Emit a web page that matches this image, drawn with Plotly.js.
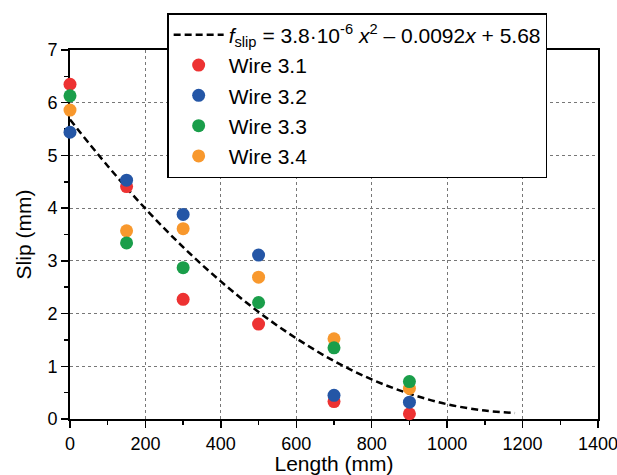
<!DOCTYPE html>
<html>
<head>
<meta charset="utf-8">
<script src="https://cdn.plot.ly/plotly-3.0.1.min.js"></script>
<style>html,body{margin:0;padding:0;background:#fff;}#chart{width:617px;height:475px;}</style>
</head>
<body>
<div id="chart"></div>
<script>
// Measurement lengths (mm)
var lengths = [0, 150, 300, 500, 700, 900];
// Slip values (mm) per wire
var wire31 = [6.35, 4.41, 2.27, 1.80, 0.33, 0.10];
var wire32 = [5.44, 4.53, 3.88, 3.11, 0.45, 0.32];
var wire33 = [6.13, 3.34, 2.87, 2.21, 1.35, 0.71];
var wire34 = [5.86, 3.57, 3.61, 2.69, 1.52, 0.58];
// Fitted curve f_slip = 3.8e-6 x^2 - 0.0092 x + 5.68 (as shown in the legend)
var fitX = [0, 100, 200, 300, 400, 500, 600, 700, 800, 900, 1000, 1100, 1180];
var fitY = [5.68, 4.80, 3.99, 3.26, 2.61, 2.03, 1.53, 1.10, 0.75, 0.48, 0.28, 0.16, 0.115];
var xTicks = [0, 200, 400, 600, 800, 1000, 1200, 1400];
var yTicks = [0, 1, 2, 3, 4, 5, 6, 7];

var FONT = 'Arial, "Liberation Sans", sans-serif';
var mk = function (name, y, color, rank) {
  return {
    x: lengths, y: y, name: name, type: 'scatter', mode: 'markers',
    marker: {size: 13, color: color, line: {width: 0}},
    cliponaxis: false, legendrank: rank
  };
};

var traces = [
  {
    x: fitX, y: fitY, type: 'scatter', mode: 'lines', legendrank: 1,
    name: '<i>f</i><sub>slip</sub> = 3.8·10<sup>-6</sup> <i>x</i><sup>2</sup> – 0.0092<i>x</i> + 5.68',
    line: {color: '#000', width: 2.5, dash: '7px,4px', shape: 'spline'}
  },
  mk('Wire 3.1', wire31, 'rgb(237,50,50)', 2),
  mk('Wire 3.2', wire32, 'rgb(36,86,166)', 3),
  mk('Wire 3.4', wire34, 'rgb(248,152,45)', 5),
  mk('Wire 3.3', wire33, 'rgb(26,158,74)', 4)
];

var axisCommon = {
  showline: true, linecolor: '#000', linewidth: 2, mirror: true,
  ticks: 'outside', ticklen: 7, tickwidth: 1.5, tickcolor: '#000',
  showgrid: true, gridcolor: '#777', gridwidth: 1.2, griddash: 'dot',
  zeroline: false, layer: 'below traces', ticklabeloverflow: 'allow',
  tickfont: {family: FONT, size: 18, color: '#000'}
};

var layout = {
  width: 617, height: 475,
  margin: {l: 70, r: 19, t: 50, b: 56},
  paper_bgcolor: '#fff', plot_bgcolor: '#fff',
  font: {family: FONT, color: '#000'},
  showlegend: true,
  xaxis: Object.assign({}, axisCommon, {
    range: [0, 1400], tickvals: xTicks, ticktext: xTicks.map(String),
    minor: {dtick: 100, tick0: 0, ticks: 'outside', ticklen: 4, tickwidth: 1.5, tickcolor: '#000', showgrid: false},
    title: {text: 'Length (mm)', font: {family: FONT, size: 21, color: '#000'}, standoff: 4}
  }),
  yaxis: Object.assign({}, axisCommon, {
    range: [0, 7], tickvals: yTicks, ticktext: yTicks.map(String),
    minor: {dtick: 0.5, tick0: 0, ticks: 'outside', ticklen: 4, tickwidth: 1.5, tickcolor: '#000', showgrid: false},
    title: {text: 'Slip (mm)', font: {family: FONT, size: 21, color: '#000'}, standoff: 10}
  }),
  legend: {
    x: 0.184, y: 1.1, xanchor: 'left', yanchor: 'top',
    bgcolor: '#fff', bordercolor: '#000', borderwidth: 1.5,
    font: {family: FONT, size: 21, color: '#000'},
    tracegroupgap: 0, itemwidth: 50
  }
};

Plotly.newPlot('chart', traces, layout, {displayModeBar: false, staticPlot: true});
</script>
</body>
</html>
